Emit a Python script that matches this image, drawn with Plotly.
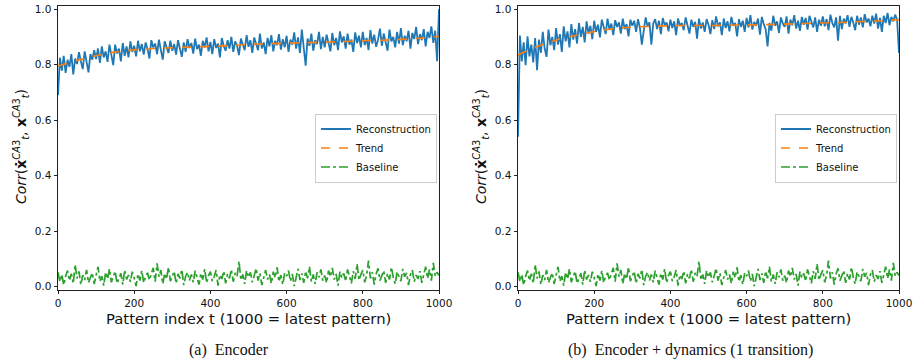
import plotly.graph_objects as go

# ---------------- data (values in thousandths of correlation) ----------------
t_index = list(range(0, 1001, 5))
trend_t = list(range(0, 1001, 50))

recon_a = [
    690, 825, 778, 832, 770, 818, 792, 838, 765, 822,
    802, 845, 812, 784, 848, 806, 772, 838, 818, 852,
    820, 858, 806, 866, 826, 848, 810, 872, 836, 798,
    872, 840, 858, 812, 878, 832, 866, 826, 884, 846,
    868, 830, 886, 848, 874, 836, 880, 856, 822, 888,
    862, 876, 838, 890, 852, 818, 884, 864, 842, 886,
    850, 874, 836, 888, 858, 828, 880, 846, 892, 860,
    878, 840, 894, 856, 872, 832, 886, 862, 898, 848,
    882, 838, 892, 860, 876, 826, 896, 866, 850, 888,
    858, 900, 846, 884, 868, 834, 894, 872, 852, 906,
    864, 888, 842, 898, 870, 852, 912, 858, 880, 838,
    896, 866, 906, 848, 886, 870, 910, 854, 892, 862,
    904, 846, 890, 872, 916, 858, 898, 842, 926, 866,
    796, 894, 868, 912, 850, 888, 874, 918, 856, 900,
    862, 908, 878, 848, 914, 870, 896, 852, 920, 880,
    902, 858, 912, 872, 890, 846, 916, 878, 904, 862,
    918, 870, 896, 852, 924, 876, 908, 864, 890, 930,
    868, 912, 880, 850, 926, 884, 900, 862, 918, 876,
    932, 870, 904, 884, 922, 858, 914, 892, 936, 874,
    910, 888, 928, 866, 918, 896, 938, 878, 922, 812,
    1000,
]

recon_b = [
    540, 905, 812, 880, 798, 902, 830, 872, 808, 896,
    780, 890, 842, 918, 858, 828, 926, 870, 900, 852,
    932, 872, 910, 846, 938, 884, 920, 862, 946, 890,
    928, 876, 950, 900, 936, 880, 956, 912, 940, 892,
    958, 918, 944, 898, 962, 930, 910, 966, 926, 948,
    906, 960, 936, 952, 912, 966, 928, 946, 902, 962,
    940, 958, 918, 964, 932, 872, 914, 970, 938, 952,
    872, 948, 964, 928, 958, 910, 968, 942, 952, 920,
    962, 932, 956, 906, 966, 940, 950, 924, 970, 944,
    912, 962, 936, 954, 894, 966, 930, 952, 918, 964,
    944, 910, 960, 928, 974, 938, 952, 906, 966, 932,
    956, 920, 972, 940, 950, 902, 964, 936, 958, 918,
    968, 934, 978, 926, 954, 940, 966, 908, 972, 946,
    928, 866, 950, 922, 976, 940, 956, 914, 970, 948,
    936, 974, 912, 962, 942, 978, 930, 958, 922, 972,
    944, 968, 926, 976, 952, 934, 970, 918, 962, 940,
    974, 938, 964, 924, 980, 950, 934, 970, 886, 976,
    928, 966, 948, 978, 936, 972, 952, 924, 976, 944,
    970, 934, 982, 952, 966, 938, 976, 948, 984, 930,
    968, 918, 976, 950, 986, 942, 972, 956, 980, 962,
    842,
]

baseline = [
    52, 18, 44, 6, 38, 58, 22, 47, 12, 80,
    30, 55, 8, 42, 24, 61, 15, 36, 50, 10,
    45, 72, 20, 38, 4, 52, 28, 64, 16, 40,
    56, 12, 34, 48, 8, 60, 26, 42, 18, 54,
    32, 2, 46, 22, 58, 14, 38, 50, 24, 44,
    68, 18, 84, 36, 60, 10, 48, 28, 70, 20,
    40, 56, 12, 46, 30, 62, 6, 38, 52, 22,
    44, 16, 58, 32, 8, 48, 26, 64, 14, 40,
    54, 20, 36, 60, 4, 42, 28, 56, 12, 46,
    30, 62, 18, 50, 38, 92, 24, 44, 10, 58,
    34, 52, 16, 40, 66, 22, 48, 6, 36, 60,
    26, 44, 12, 54, 32, 70, 18, 42, 8, 50,
    38, 58, 20, 46, 2, 40, 64, 24, 48, 14,
    56, 30, 72, 18, 44, 10, 52, 34, 62, 22,
    40, 14, 58, 36, 68, 26, 46, 4, 54, 32,
    48, 20, 62, 38, 12, 56, 28, 82, 24, 44,
    60, 16, 42, 94, 30, 52, 8, 46, 66, 22,
    38, 58, 14, 48, 26, 70, 34, 10, 54, 40,
    20, 64, 36, 50, 6, 44, 60, 18, 42, 28,
    56, 14, 48, 72, 30, 62, 22, 86, 38, 52,
    40,
]

trend_a = [795, 815, 832, 845, 853, 858, 861, 863, 866, 869, 872,
           875, 877, 879, 881, 883, 886, 888, 891, 895, 902]
trend_b = [835, 865, 888, 905, 919, 929, 935, 938, 940, 941, 941,
           942, 943, 944, 946, 948, 950, 952, 955, 958, 962]

y_ticks = [0.0, 0.2, 0.4, 0.6, 0.8, 1.0]
x_ticks = [0, 200, 400, 600, 800, 1000]
captions = ["(a)  Encoder", "(b)  Encoder + dynamics (1 transition)"]
x_title = "Pattern index t (1000 = latest pattern)"
y_title = ("<i>Corr</i>(<b>ẋ</b><sup><i>CA</i>3</sup><sub><i>t</i></sub>, "
           "<b>x</b><sup><i>CA</i>3</sup><sub><i>t</i></sub>)")

BLUE, ORANGE, GREEN = "#1f77b4", "#ff7f0e", "#2ca02c"
W, H = 914, 364

def scale(v):
    return [a / 1000 for a in v]

fig = go.Figure()
panels = [
    ("x", "y", "legend", recon_a, trend_a),
    ("x2", "y2", "legend2", recon_b, trend_b),
]
for xa, ya, lg, rec, tr in panels:
    fig.add_trace(go.Scatter(x=t_index, y=scale(rec), mode="lines", name="Reconstruction",
                             line=dict(color=BLUE, width=1.8), xaxis=xa, yaxis=ya, legend=lg))
    fig.add_trace(go.Scatter(x=trend_t, y=scale(tr), mode="lines", name="Trend",
                             line=dict(color=ORANGE, width=1.6, dash="dash", shape="spline"),
                             xaxis=xa, yaxis=ya, legend=lg))
    fig.add_trace(go.Scatter(x=t_index, y=scale(baseline), mode="lines", name="Baseline",
                             line=dict(color=GREEN, width=1.7, dash="dashdot"),
                             xaxis=xa, yaxis=ya, legend=lg))

ydom = [1 - 289.5 / H, 1 - 5.5 / H]
axis_common = dict(showline=True, mirror=True, linecolor="#222", linewidth=1,
                   ticks="outside", ticklen=3.5, tickwidth=1, tickcolor="#222",
                   showgrid=False, zeroline=False, automargin=False,
                   tickfont=dict(family="DejaVu Sans", size=10.5, color="#111"))

legend_common = dict(xanchor="left", yanchor="middle", y=1 - 148 / H,
                     bgcolor="white", bordercolor="#cccccc", borderwidth=1,
                     font=dict(family="DejaVu Sans", size=10, color="#111"), tracegroupgap=0)

fig.update_layout(
    width=W, height=H, margin=dict(l=0, r=0, t=0, b=0, pad=0, autoexpand=False),
    paper_bgcolor="white", plot_bgcolor="white",
    font=dict(family="DejaVu Sans", color="#111"),
    xaxis=dict(domain=[58 / W, 439 / W], range=[0, 1000], tickvals=x_ticks, anchor="y", **axis_common),
    yaxis=dict(domain=ydom, range=[-0.01, 1.013], tickvals=y_ticks, tickformat=".1f", anchor="x", **axis_common),
    xaxis2=dict(domain=[518 / W, 899 / W], range=[0, 1000], tickvals=x_ticks, anchor="y2", **axis_common),
    yaxis2=dict(domain=ydom, range=[-0.01, 1.013], tickvals=y_ticks, tickformat=".1f", anchor="x2", **axis_common),
    legend=dict(x=315 / W, **legend_common),
    legend2=dict(x=775 / W, **legend_common),
)

annotations = []
for cx_plot, cx_ylab, cx_cap, cap in [(248.5, 21, 229, captions[0]), (708.5, 481, 690, captions[1])]:
    annotations.append(dict(text=x_title, x=cx_plot / W, y=1 - 318 / H, xref="paper", yref="paper",
                            xanchor="center", yanchor="middle", showarrow=False,
                            font=dict(family="DejaVu Sans", size=14.8, color="#111")))
    annotations.append(dict(text=y_title, x=cx_ylab / W, y=1 - 147 / H, xref="paper", yref="paper",
                            xanchor="center", yanchor="middle", showarrow=False, textangle=-90,
                            font=dict(family="DejaVu Sans", size=14, color="#111")))
    annotations.append(dict(text=cap, x=cx_cap / W, y=1 - 350 / H, xref="paper", yref="paper",
                            xanchor="center", yanchor="middle", showarrow=False,
                            font=dict(family="Liberation Serif", size=16, color="#111")))
fig.update_layout(annotations=annotations)

fig.write_html("out.html",
               post_script="document.body.style.margin='0';document.body.style.padding='0';"
                           "document.documentElement.style.overflow='hidden';")
